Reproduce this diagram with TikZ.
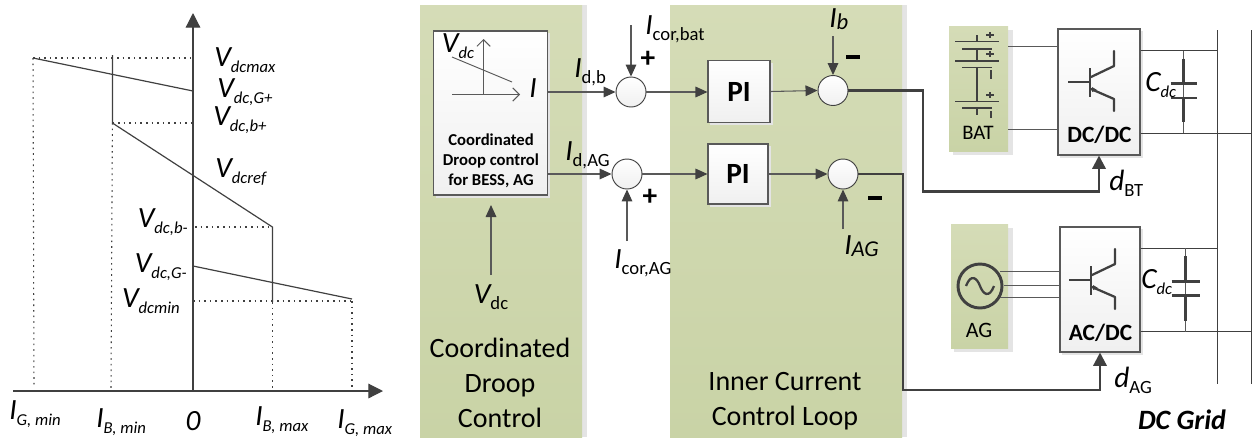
\documentclass[tikz,border=0pt]{standalone}
\usepackage{fontspec}
\setmainfont{Carlito}
\usetikzlibrary{arrows.meta}
\definecolor{ln}{HTML}{595959}
\definecolor{dk}{HTML}{404040}
\definecolor{shd}{HTML}{E4E4E4}
\definecolor{pnlT}{HTML}{D5DCB7}
\definecolor{pnlB}{HTML}{C9D3A6}
\newcommand{\Lab}[2]{{\itshape #1}\raisebox{-.2em}{\fontsize{12.5}{14}\selectfont\itshape #2}}
\newcommand{\LabU}[2]{{\itshape #1}\raisebox{-.2em}{\fontsize{14}{15}\selectfont #2}}
\newcommand{\LabB}[2]{{\itshape #1}\raisebox{-.06em}{\fontsize{17}{18}\selectfont\itshape #2}}
\tikzset{
  px/.style={x=0.75pt,y=-0.75pt},
  tx/.style={inner sep=0pt,text=black,font=\fontsize{22}{24}\selectfont},
  big/.style={inner sep=0pt,align=center,text=black,font=\fontsize{21}{26.2}\selectfont},
  panel/.style={top color=pnlT,bottom color=pnlB,draw=none},
  shadowrect/.style={fill=shd,draw=none},
  greybox/.style={draw=ln,line width=0.8pt,top color=white,bottom color=black!6,inner sep=0pt,rectangle},
  sumc/.style={circle,draw=dk,line width=0.7pt,top color=white,bottom color=black!6,minimum size=22.5pt,inner sep=0pt},
  flow/.style={draw=ln,line width=0.8pt,-{Triangle[length=9pt,width=8pt,color=dk]}},
  ctrl/.style={draw=dk,line width=1.8pt,-{Triangle[length=10pt,width=10pt,color=dk]}},
  thinl/.style={draw=ln,line width=0.7pt},
  axis/.style={draw=dk,line width=0.9pt,-{Triangle[length=11pt,width=11pt,color=dk]}},
  droop/.style={draw=dk,line width=0.9pt},
  dots/.style={draw=dk,line width=0.8pt,dash pattern=on 1.2pt off 3pt},
  sym/.style={draw=dk,line width=1.7pt},
  symt/.style={draw=dk,line width=1.1pt},
  signm/.style={draw=black,line width=2.4pt},
}
\begin{document}
\begin{tikzpicture}[px]
\useasboundingbox (0,0) rectangle (1252,437);
% ---------- droop plot ----------
\coordinate (xs) at (13,391); \coordinate (xe) at (383,391);
\coordinate (ys) at (193,391); \coordinate (ye) at (193,13);
\coordinate (a1) at (33,58); \coordinate (a2) at (193,91);
\coordinate (a0) at (193,58); \coordinate (a1b) at (34,388);
\coordinate (b0) at (112.4,55); \coordinate (b1) at (112.4,123); \coordinate (b2) at (272.4,227);
\coordinate (b1y) at (192,123); \coordinate (b1b) at (111,388);
\coordinate (b2y) at (195,227); \coordinate (b3) at (272.4,302); \coordinate (b3b) at (272.4,388);
\coordinate (c1) at (193,266); \coordinate (c2) at (352,299);
\coordinate (c0) at (193,301); \coordinate (c3) at (352,301); \coordinate (c3b) at (352,388);
\draw[axis] (xs) -- (xe);
\draw[axis] (ys) -- (ye);
\draw[dots] (a1) -- (a0);
\draw[dots] (a1) -- (a1b);
\draw[droop] (a1) -- (a2);
\draw[droop] (b0) -- (b1) -- (b2) -- (b3);
\draw[dots] (b1) -- (b1y);
\draw[dots] (b1) -- (b1b);
\draw[dots] (b2y) -- (b2);
\draw[dots] (b3) -- (b3b);
\draw[droop] (c1) -- (c2);
\draw[dots] (c0) -- (c3);
\draw[dots] (c3) -- (c3b);
\node[tx,anchor=west] (l1) at (214,60) {\Lab{V}{dcmax}};
\node[tx,anchor=west] (l2) at (217,92) {\Lab{V}{dc,G+}};
\node[tx,anchor=west] (l3) at (213,120) {\Lab{V}{dc,b+}};
\node[tx,anchor=west] (l4) at (215,172) {\Lab{V}{dcref}};
\node[tx,anchor=east] (l5) at (188,222) {\Lab{V}{dc,b-}};
\node[tx,anchor=east] (l6) at (187,267) {\Lab{V}{dc,G-}};
\node[tx,anchor=east] (l7) at (180,301) {\Lab{V}{dcmin}};
\node[tx,anchor=west] (l8) at (9,414) {\Lab{I}{G, min}};
\node[tx,anchor=west] (l9) at (96,422) {\Lab{I}{B, min}};
\node[tx] (l10) at (193,421) {\itshape 0};
\node[tx,anchor=west] (l11) at (255,420) {\Lab{I}{B, max}};
\node[tx,anchor=west] (l12) at (337,423) {\Lab{I}{G, max}};
% ---------- panels ----------
\fill[shadowrect] (582,5) rectangle (587,437);
\fill[shadowrect] (902,5) rectangle (907,437);
\path[panel] (420,5) rectangle (582,437);
\path[panel] (670,5) rectangle (902,437);
\node[big] (t1) at (500,383) {Coordinated\\Droop\\Control};
\node[big] (t2) at (785,401.5) {Inner Current\\Control Loop};
% droop box
\fill[shadowrect] (436,33) rectangle (550,198);
\node[greybox,minimum width=85pt,minimum height=123pt] (cd) at (490.5,113) {};
\coordinate (ax0) at (483.5,94.5); \coordinate (ax1) at (483.5,39);
\coordinate (ax2) at (452,94.5); \coordinate (ax3) at (520,94.5);
\coordinate (dl1) at (452,57); \coordinate (dl2) at (512,82);
\draw[thinl,-{Straight Barb[length=5pt,width=10pt]}] (ax0) -- (ax1);
\draw[thinl,-{Straight Barb[length=5pt,width=10pt]}] (ax2) -- (ax3);
\draw[thinl] (dl1) -- (dl2);
\node[tx] (vd) at (458,46) {\Lab{V}{dc}};
\node[tx] (ii) at (533,88) {\itshape I};
\node[inner sep=0pt,align=center,font=\fontsize{12.5}{15}\selectfont\bfseries] (cdt) at (491,161) {Coordinated\\Droop control\\for BESS, AG};
% sums and PI
\node[sumc] (s1) at (631,92) {};
\node[sumc] (s2) at (627,174) {};
\fill[shadowrect] (710,63) rectangle (773,125);
\fill[shadowrect] (710,146) rectangle (771,207);
\node[greybox,minimum width=46.5pt,minimum height=46pt,font=\fontsize{22}{24}\selectfont\bfseries] (pi1) at (739,91.5) {PI};
\node[greybox,minimum width=45pt,minimum height=45pt,font=\fontsize{22}{24}\selectfont\bfseries] (pi2) at (738,174) {PI};
\node[sumc] (s3) at (833,90.5) {};
\node[sumc] (s4) at (843,174) {};
\coordinate (c1t) at (631,25); \coordinate (c2b) at (627,241);
\coordinate (vt) at (491,275); \coordinate (vh) at (491,205);
\coordinate (ib) at (833,36); \coordinate (ia) at (843,229);
\draw[flow] (cd.east |- s1.west) -- (s1.west);
\draw[flow] (cd.east |- s2.west) -- (s2.west);
\draw[flow] (c1t) -- (s1.north);
\draw[flow] (c2b) -- (s2.south);
\draw[flow] (vt) -- (vh);
\draw[flow] (s1.east) -- (pi1.west |- s1.east);
\draw[flow] (s2.east) -- (pi2.west);
\draw[flow] (pi1.east) -- (s3.west);
\draw[flow] (pi2.east) -- (s4.west);
\draw[flow] (ib) -- (s3.north);
\draw[flow] (ia) -- (s4.south);
\node[tx,anchor=west] (n1) at (574,72) {\LabU{I}{d,b}};
\node[tx,anchor=west] (n2) at (565,155) {\LabU{I}{d,AG}};
\node[tx,anchor=west] (n3) at (645,29) {\LabU{I}{cor,bat}};
\node[tx,anchor=west] (n4) at (614,263) {\LabU{I}{cor,AG}};
\node[tx] (n5) at (491,297) {\LabU{V}{dc}};
\node[tx,anchor=west] (n6) at (829,19) {\LabB{I}{b}};
\node[tx,anchor=west] (n7) at (844,246) {\LabB{I}{AG}};
\node[inner sep=0pt,font=\fontsize{22}{24}\selectfont\bfseries] (p1) at (648,59) {+};
\node[inner sep=0pt,font=\fontsize{22}{24}\selectfont\bfseries] (p2) at (650,197) {+};
\coordinate (m1a) at (846,57); \coordinate (m1b) at (860,57);
\coordinate (m2a) at (868,198); \coordinate (m2b) at (882,198);
\draw[signm] (m1a) -- (m1b);
\draw[signm] (m2a) -- (m2b);
% ---------- source blocks ----------
\fill[shadowrect] (953,30) rectangle (1013,155);
\fill[shadowrect] (954,228) rectangle (1013,352);
\path[panel] (949,26) rectangle (1008,151);
\path[panel] (951,224) rectangle (1008,348);
\fill[shadowrect] (1060,31) rectangle (1143,158);
\fill[shadowrect] (1062,229) rectangle (1143,355);
\node[greybox,minimum width=61.5pt,minimum height=94.5pt] (dc) at (1099,92) {};
\node[greybox,minimum width=60pt,minimum height=93.75pt] (ac) at (1100,289.5) {};
\node[inner sep=0pt,font=\fontsize{17.5}{18}\selectfont\bfseries] (dct) at (1099.5,135) {DC/DC};
\node[inner sep=0pt,font=\fontsize{17.5}{18}\selectfont\bfseries] (act) at (1100.5,333) {AC/DC};
\node[inner sep=0pt,font=\fontsize{15.5}{16}\selectfont] (bat) at (978,133) {BAT};
\node[inner sep=0pt,font=\fontsize{16.5}{18}\selectfont] (agt) at (979,330) {AG};
% battery symbol
\foreach \y in {41.5,61,101.7} \draw[symt] (955,\y) -- (999,\y);
\foreach \y in {49,67.7,108} \draw[symt] (962,\y) -- (992,\y);
\draw[symt] (977,35) -- (977,41.5);
\draw[symt] (977,49) -- (977,61);
\draw[symt] (977,67.7) -- (977,101.7);
\draw[symt] (977,108) -- (977,115);
\foreach \y in {35,54,95} {\draw[symt] (986,\y) -- (994,\y); \draw[symt] (990,\y-3) -- (990,\y+3);}
\draw[symt] (991,70) -- (991,79);
\draw[symt] (991,111) -- (991,118);
% AG symbol
\node[circle,draw=dk,line width=2.2pt,minimum size=33pt,inner sep=0pt] (src) at (980,286) {};
\draw[dk,line width=1.7pt] (966,286) .. controls (971,273) and (977,278) .. (980,286) .. controls (983,294) and (989,299) .. (994,286);
% source connectors
\coordinate (bu) at (1008,46.5); \coordinate (bl) at (1008,129);
\draw[thinl] (bu) -- (dc.west |- bu);
\draw[thinl] (bl) -- (dc.west |- bl);
\coordinate (g1) at (1000,271.5); \coordinate (g2) at (1004,285); \coordinate (g3) at (1000,297.5);
\draw[thinl] (g1) -- (ac.west |- g1);
\draw[thinl] (g2) -- (ac.west |- g2);
\draw[thinl] (g3) -- (ac.west |- g3);
% transistors
\foreach \dx/\dy in {0/0,1/198}{
  \begin{scope}[shift={(\dx,\dy)}]
    \draw[sym,line width=1.2pt] (1068,82) -- (1090,82);
    \draw[sym] (1090,68) -- (1090,97);
    \draw[sym,line cap=round,line join=round] (1091,77) -- (1114,66) -- (1114,51);
    \draw[sym,line cap=round,line join=round] (1091,89) -- (1114,99) -- (1114,111);
    \fill[dk] (1092,87) -- (1097,90) -- (1092,92) -- cycle;
  \end{scope}
}
% grid
\coordinate (v1t) at (1217.5,30); \coordinate (v1b) at (1217.5,384);
\coordinate (v2t) at (1251.5,30); \coordinate (v2b) at (1251.5,384);
\draw[draw=dk,line width=0.8pt] (v1t) -- (v1b);
\draw[draw=dk,line width=1.4pt] (v2t) -- (v2b);
\coordinate (r1) at (1217.5,50.5); \coordinate (r2) at (1252,133);
\coordinate (r3) at (1217.5,248); \coordinate (r4) at (1252,331.5);
\draw[thinl,draw=dk] (dc.east |- r1) -- (r1);
\draw[thinl,draw=dk] (dc.east |- r2) -- (r2);
\draw[thinl,draw=dk] (ac.east |- r3) -- (r3);
\draw[thinl,draw=dk] (ac.east |- r4) -- (r4);
% capacitors
\foreach \cx/\top/\pa/\pb/\bot/\hw in {1183.5/50.5/83.5/98/133/13,1185.5/248/281.5/295.5/331.5/14}{
  \draw[thinl] (\cx,\top) -- (\cx,\bot);
  \draw[sym] (\cx,\top+8) -- (\cx,\pa);
  \draw[sym] (\cx,\pb) -- (\cx,\bot-11);
  \draw[sym] (\cx-\hw,\pa) -- (\cx+\hw,\pa);
  \draw[sym] (\cx-\hw,\pb) -- (\cx+\hw,\pb);
}
\node[tx,anchor=west] (c1l) at (1145,85) {\Lab{C}{dc}};
\node[tx,anchor=west] (c2l) at (1141,282) {\Lab{C}{dc}};
% control lines
\coordinate (k1) at (923,90.5); \coordinate (k2) at (923,191.5);
\coordinate (k3) at (903,174); \coordinate (k4) at (903,390);
\draw[ctrl] (s3.east) -- (k1) -- (k2) -- (dc.south |- k2) -- (dc.south);
\draw[ctrl] (s4.east) -- (k3) -- (k4) -- (ac.south |- k4) -- (ac.south);
\node[tx,anchor=west] (d1) at (1109,183) {\LabU{d}{BT}};
\node[tx,anchor=west] (d2) at (1114,380) {\LabU{d}{AG}};
\node[inner sep=0pt,font=\fontsize{21}{22}\selectfont\bfseries\itshape] (grid) at (1182,420) {DC Grid};
\end{tikzpicture}
\end{document}
